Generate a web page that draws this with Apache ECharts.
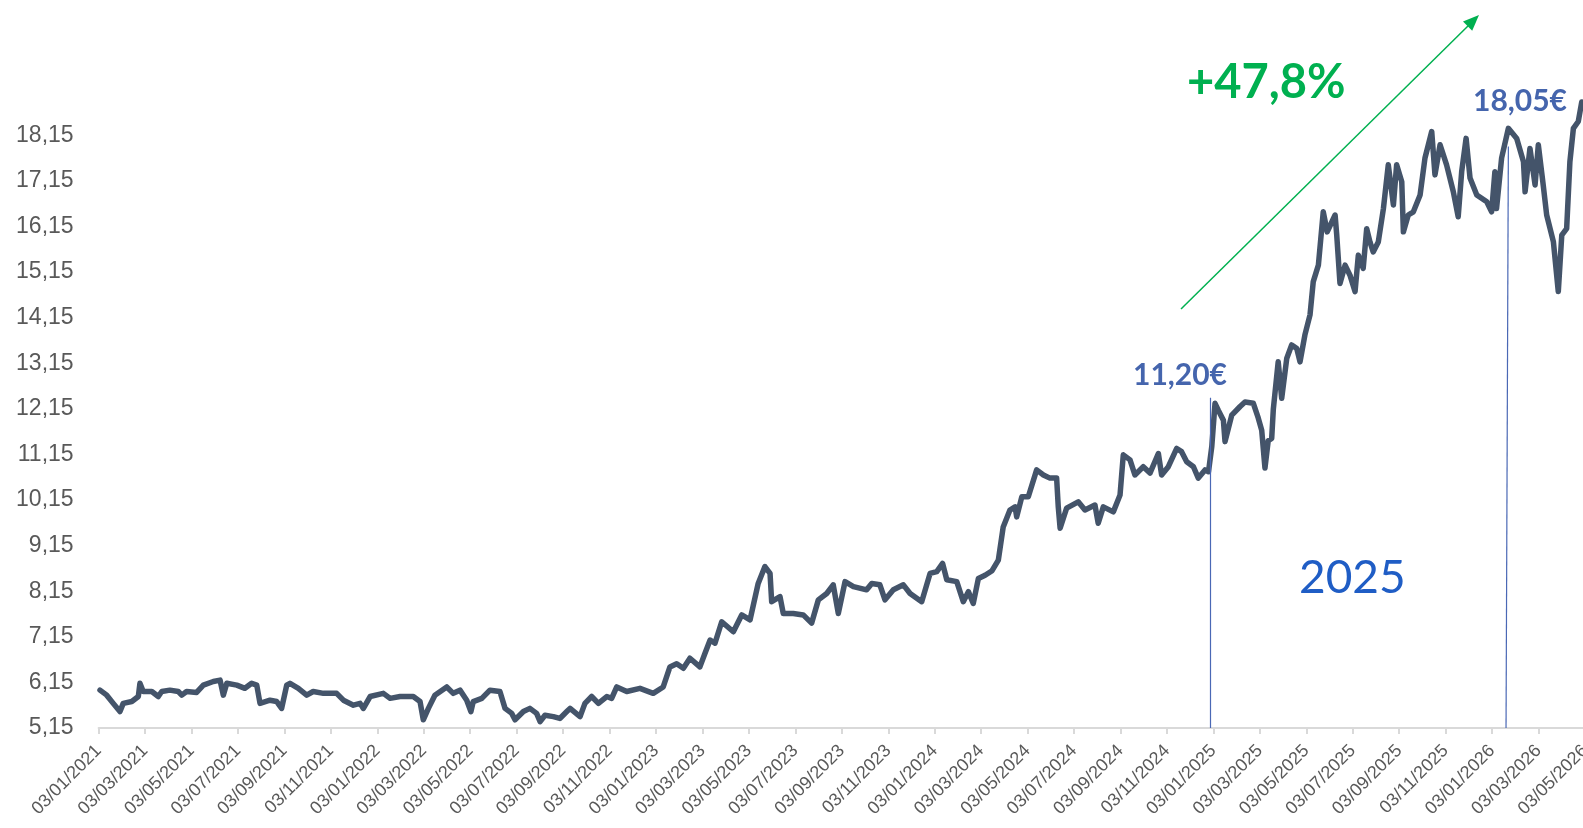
<!DOCTYPE html>
<html lang="fr">
<head>
  <meta charset="UTF-8" />
  <title>Cours de l'action</title>
  <script src="https://cdn.jsdelivr.net/npm/echarts@6/dist/echarts.min.js"></script>
  <style>
    html, body { margin: 0; padding: 0; background: #fff; }
    #chart { width: 1583px; height: 828px; }
  </style>
</head>
<body>
  <div id="chart"></div>
  <script>
    // months counted from 03/01/2021 (0 = Jan 2021, 2 = Mar 2021, ...)
    const months = [
      0.06, 0.35, 0.63, 0.92, 1.06, 1.43, 1.71, 1.78, 1.92, 2.29, 2.57, 2.72, 3.07, 3.43, 3.58, 3.79,
      4.22, 4.51, 4.94, 5.23, 5.37, 5.52, 5.95, 6.30, 6.59, 6.81, 6.95, 7.38, 7.67, 7.88, 8.10, 8.24,
      8.60, 8.96, 9.24, 9.68, 10.25, 10.54, 10.97, 11.26, 11.40, 11.69, 12.26, 12.55, 12.98, 13.55,
      13.84, 13.98, 14.20, 14.48, 14.99, 15.27, 15.56, 15.85, 16.03, 16.13, 16.50, 16.85, 17.28, 17.50,
      17.79, 17.93, 18.29, 18.57, 18.86, 19.01, 19.22, 19.58, 19.86, 20.16,
      20.30, 20.73, 20.94, 21.23, 21.52, 21.88, 22.09, 22.31, 22.74, 23.31, 23.88, 24.31, 24.60, 24.89,
      25.18, 25.46, 25.89, 26.11, 26.33, 26.54, 26.83, 27.33, 27.69, 28.05, 28.40, 28.69, 28.91, 28.98,
      29.34, 29.48, 29.91, 30.34, 30.70, 30.99, 31.35, 31.63, 31.85, 32.14, 32.50, 33.07, 33.29, 33.64,
      33.86, 34.22, 34.65, 34.94, 35.44, 35.80, 36.09, 36.34, 36.52, 36.95, 37.23, 37.45, 37.66, 37.88,
      38.17, 38.47, 38.74, 38.95, 39.24, 39.46, 39.53, 39.75, 40.03, 40.39, 40.68, 40.96, 41.25, 41.32,
      41.40, 41.68, 42.18, 42.47, 42.90, 43.04, 43.26, 43.69, 43.98, 44.12, 44.41, 44.62, 44.98, 45.27,
      45.63, 45.77, 46.06, 46.42, 46.63, 46.85, 47.14, 47.35, 47.64, 47.79, 47.93, 48.07, 48.21, 48.43,
      48.50, 48.79, 49.15, 49.36, 49.72, 49.93, 50.08, 50.22, 50.36, 50.51, 50.58, 50.79, 50.94, 51.16,
      51.37, 51.59, 51.73, 51.94, 52.16, 52.30, 52.52, 52.73, 52.90, 53.24, 53.31, 53.45, 53.67, 53.88,
      54.10, 54.24, 54.45, 54.60, 54.74, 54.88, 55.10, 55.32, 55.53, 55.75, 55.89, 56.11, 56.18, 56.39,
      56.61, 56.90, 57.11, 57.40, 57.54, 57.76, 58.04, 58.33, 58.54, 58.69, 58.88, 59.05, 59.34, 59.77,
      59.98, 60.12, 60.19, 60.41, 60.70, 61.06, 61.35, 61.42, 61.63, 61.85, 61.99, 62.20, 62.35, 62.64,
      62.85, 63.00, 63.21, 63.35, 63.50, 63.71, 63.86, 63.96
    ];
    const prices = [
      5.98, 5.87, 5.69, 5.51, 5.69, 5.73, 5.84, 6.13, 5.95, 5.95, 5.84, 5.95, 5.98, 5.95, 5.87, 5.95,
      5.93, 6.09, 6.17, 6.20, 5.87, 6.13, 6.09, 6.02, 6.13, 6.09, 5.69, 5.76, 5.73, 5.58, 6.09, 6.13,
      6.02, 5.87, 5.95, 5.91, 5.91, 5.76, 5.65, 5.69, 5.58, 5.84, 5.91, 5.80, 5.84, 5.84,
      5.73, 5.33, 5.58, 5.87, 6.05, 5.91, 5.98, 5.76, 5.51, 5.73, 5.80, 5.98, 5.95, 5.58,
      5.47, 5.33, 5.51, 5.58, 5.47, 5.29, 5.43, 5.40, 5.36, 5.51,
      5.58, 5.40, 5.69, 5.84, 5.69, 5.84, 5.80, 6.05, 5.95, 6.02, 5.91, 6.05, 6.49, 6.56,
      6.46, 6.68, 6.49, 6.79, 7.08, 7.01, 7.48, 7.26, 7.63, 7.52, 8.32, 8.69, 8.54, 7.92,
      8.03, 7.66, 7.66, 7.63, 7.45, 7.96, 8.10, 8.29, 7.66, 8.36, 8.25, 8.18, 8.32, 8.29,
      7.96, 8.18, 8.29, 8.10, 7.92, 8.54, 8.58, 8.76, 8.40, 8.36, 7.92, 8.14, 7.88, 8.43,
      8.50, 8.60, 8.83, 9.56, 9.93, 10.00, 9.78, 10.22, 10.22, 10.81, 10.70, 10.63, 10.63, 10.00,
      9.53, 9.97, 10.11, 9.93, 10.04, 9.64, 10.00, 9.89, 10.26, 11.14, 11.03, 10.70, 10.88, 10.74,
      11.17, 10.70, 10.88, 11.28, 11.21, 10.99, 10.88, 10.63, 10.81, 10.77, 11.32, 12.27, 12.12, 11.90,
      11.43, 12.01, 12.20, 12.30, 12.27, 11.95, 11.68, 10.85, 11.45, 11.50, 12.14, 13.18, 12.38, 13.26,
      13.55, 13.47, 13.18, 13.77, 14.21, 14.94, 15.30, 16.47, 16.03, 16.40, 15.96, 14.90, 15.30, 15.08,
      14.72, 15.52, 15.23, 16.10, 15.81, 15.59, 15.81, 16.54, 17.50, 16.62, 17.50, 17.13, 16.03, 16.40,
      16.47, 16.84, 17.65, 18.23, 17.28, 17.94, 17.50, 16.91, 16.36, 17.35, 18.08, 17.21, 16.84, 16.69,
      16.47, 17.35, 16.54, 17.65, 18.30, 18.08, 17.57, 16.91, 17.86, 17.06, 17.94, 17.06, 16.40, 15.81,
      14.72, 15.96, 16.10, 17.57, 18.30, 18.45, 18.88, 18.80
    ];

    // vertical reference lines: [month, top value]
    const startLine = [47.87, 12.39];
    const endLine = [60.70, 17.90];

    const priceData = months.map((m, i) => [m, prices[i]]);

    function fmtNum(v) {
      return v.toFixed(2).replace('.', ',');
    }
    function fmtMonth(m) {
      const idx = Math.round(m);
      const y = 2021 + Math.floor(idx / 12);
      const mo = String((idx % 12) + 1).padStart(2, '0');
      return '03/' + mo + '/' + y;
    }

    const chart = echarts.init(document.getElementById('chart'));
    chart.setOption({
      animation: false,
      grid: {
        left: 98.6, top: 89.6, width: 1486.4, height: 638.4,
        containLabel: false, outerBoundsMode: 'none'
      },
      xAxis: {
        type: 'value',
        min: 0, max: 64, interval: 2,
        axisLine: { show: true, lineStyle: { color: '#d9d9d9', width: 2 } },
        axisTick: { show: true, length: 6, lineStyle: { color: '#d9d9d9', width: 2 } },
        splitLine: { show: false },
        axisLabel: {
          rotate: 45,
          margin: 20,
          color: '#595959',
          fontSize: 18,
          fontFamily: 'Liberation Sans',
          formatter: fmtMonth
        }
      },
      yAxis: {
        type: 'value',
        min: 5.15, max: 19.15, interval: 1,
        axisLine: { show: false },
        axisTick: { show: false },
        splitLine: { show: false },
        axisLabel: {
          margin: 25,
          color: '#595959',
          fontSize: 23,
          fontFamily: 'Liberation Sans',
          showMaxLabel: false,
          formatter: fmtNum
        }
      },
      series: [{
        type: 'line',
        data: priceData,
        symbol: 'none',
        lineStyle: { color: '#44546a', width: 5.5, join: 'round', cap: 'round' },
        markLine: {
          silent: true,
          symbol: 'none',
          label: { show: false },
          lineStyle: { color: '#4a68b5', width: 1.2, type: 'solid' },
          data: [
            [{ coord: [startLine[0], startLine[1]] }, { coord: [startLine[0], 5.15] }],
            [{ coord: [endLine[0], endLine[1]] }, { coord: [endLine[0] - 0.1, 5.15] }]
          ]
        }
      }],
      graphic: [
        {
          type: 'line',
          shape: { x1: 1181, y1: 309, x2: 1470, y2: 24 },
          style: { stroke: '#00b050', lineWidth: 1.5 }
        },
        {
          type: 'polygon',
          shape: { points: [[1479, 15], [1472.2, 30.8], [1463.0, 21.6]] },
          style: { fill: '#00b050' }
        },
        {
          type: 'text', x: 1187, y: 83,
          style: {
            text: '+47,8%', fill: '#00b050', fontSize: 47, fontWeight: 'bold', fontFamily: 'Lato',
            textAlign: 'left', textVerticalAlign: 'middle', align: 'left', verticalAlign: 'middle'
          }
        },
        {
          type: 'text', x: 1473, y: 101,
          style: {
            text: '18,05€', fill: '#4565ad', fontSize: 30, fontWeight: 'bold', fontFamily: 'Lato',
            textAlign: 'left', textVerticalAlign: 'middle', align: 'left', verticalAlign: 'middle'
          }
        },
        {
          type: 'text', x: 1133, y: 375,
          style: {
            text: '11,20€', fill: '#4565ad', fontSize: 30, fontWeight: 'bold', fontFamily: 'Lato',
            textAlign: 'left', textVerticalAlign: 'middle', align: 'left', verticalAlign: 'middle'
          }
        },
        {
          type: 'text', x: 1299, y: 578,
          style: {
            text: '2025', fill: '#1f5dc5', fontSize: 46, fontFamily: 'Lato',
            textAlign: 'left', textVerticalAlign: 'middle', align: 'left', verticalAlign: 'middle'
          }
        }
      ]
    });
  </script>
</body>
</html>
